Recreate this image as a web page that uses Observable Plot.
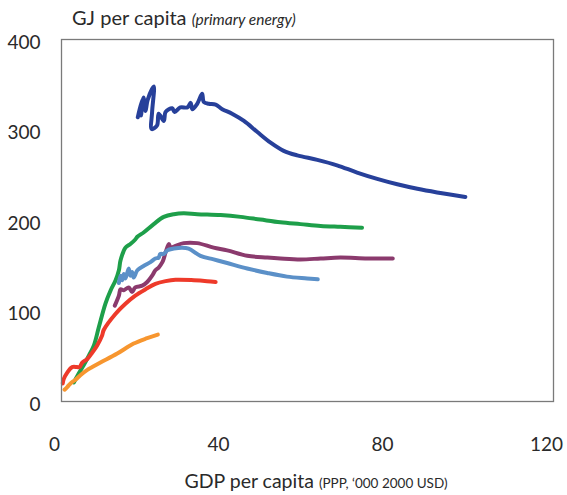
<!DOCTYPE html>
<html>
<head>
<meta charset="utf-8">
<script src="https://cdn.jsdelivr.net/npm/d3@7"></script>
<script src="https://cdn.jsdelivr.net/npm/@observablehq/plot@0.6"></script>
<style>
  html, body { margin: 0; padding: 0; background: #fff; }
  #wrap { position: relative; width: 567px; height: 495px; font-family: Lato, "Open Sans", sans-serif; color: #2a2a2a; }
  #ytitle { position: absolute; left: 72px; top: 5px; font-size: 20px; white-space: nowrap; }
  #ytitle i { font-size: 15.5px; }
  #xtitle { position: absolute; left: 0; width: 632px; text-align: center; top: 469px; font-size: 19.5px; white-space: nowrap; }
  #xtitle span { font-size: 13.5px; }
  #chart { position: absolute; left: 0; top: 0; }
</style>
</head>
<body>
<div id="wrap">
  <div id="chart"></div>
  <div id="ytitle">GJ per capita <i>(primary energy)</i></div>
  <div id="xtitle">GDP per capita <span>(PPP, ‘000 2000 USD)</span></div>
</div>
<script>
// Tick values
const xTicks = [0, 40, 80, 120];
const yTicks = [0, 100, 200, 300, 400];

// Series names and colours
const seriesNames = ["Dark blue", "Green", "Purple", "Light blue", "Red", "Orange"];
const seriesColors = ["#27409a", "#1e9f4a", "#8b3a6d", "#5b90c8", "#ee3a2a", "#f7962f"];

// GDP per capita ('000 2000 USD) and primary energy (GJ per capita)
const darkBlueGDP = [18.6, 19.7, 19.4, 20.0, 20.5, 21.0, 22.5, 22.1, 22.0, 23.3, 23.7, 24.95, 25.4, 27.0, 27.6, 29.0, 30.7, 31.5, 31.9, 33.1, 34.3, 34.7, 35.9, 37.6, 39.2, 41.6, 44.5, 47.7, 51.0, 54.2, 57.5, 62.4, 67.2, 72.1, 77.0, 81.9, 86.8, 91.6, 98.5];
const darkBlueEnergy = [314, 334, 316, 336, 321, 333, 348, 320, 301, 305, 318, 310, 320, 324, 320, 325, 325, 330, 323, 329, 340, 331, 329, 328, 323, 318, 310, 298, 286, 277, 272, 267, 261, 253, 246, 240, 235, 231, 226];

const greenGDP = [3.0, 4.2, 5.4, 6.7, 7.9, 9.1, 10.7, 12.0, 13.2, 14.0, 14.4, 15.6, 16.8, 18.0, 18.5, 20.1, 22.5, 24.95, 27.4, 29.8, 33.1, 38.8, 43.7, 48.5, 53.4, 58.3, 63.2, 68.0, 73.3];
const greenEnergy = [21, 31, 40, 51, 62, 82, 108, 123, 134, 145, 156, 170, 174, 179, 182, 187, 196, 204, 207, 208, 207, 206, 204, 201, 198, 196, 194, 193, 192];

const purpleGDP = [13.0, 14.0, 14.4, 15.2, 16.4, 17.2, 18.0, 19.7, 20.9, 22.1, 22.9, 23.7, 24.6, 24.95, 25.4, 26.2, 26.6, 27.8, 29.8, 33.1, 37.1, 40.4, 45.3, 50.2, 53.4, 58.3, 63.2, 68.0, 74.6, 80.8];
const purpleEnergy = [106, 117, 124, 123, 126, 121, 126, 128, 132, 139, 145, 148, 154, 158, 165, 174, 170, 172, 175, 175, 170, 167, 161, 159, 158, 157, 158, 159, 158, 158];

const lightBlueGDP = [14.0, 14.4, 14.8, 15.2, 15.6, 16.4, 16.8, 17.2, 17.6, 18.5, 20.1, 21.7, 22.9, 23.7, 24.1, 24.95, 25.8, 27.4, 29.4, 31.0, 33.9, 37.1, 40.4, 45.3, 50.2, 55.0, 59.9, 62.5];
const lightBlueEnergy = [131, 139, 134, 141, 136, 147, 139, 143, 137, 145, 150, 154, 158, 159, 163, 163, 167, 169, 170, 169, 161, 157, 153, 147, 142, 138, 136, 135];

const redGDP = [0.3, 0.56, 1.4, 2.6, 3.8, 4.4, 5.05, 6.3, 7.5, 8.7, 9.9, 10.3, 13.2, 15.6, 18.0, 20.5, 22.9, 25.4, 27.8, 32.3, 35.5, 37.6];
const redEnergy = [20, 25, 32, 38, 38, 38, 43, 47, 54, 62, 73, 79, 97, 108, 117, 124, 130, 133, 134.5, 134, 133, 132];

const orangeGDP = [0.73, 1.4, 2.2, 3.4, 4.6, 6.3, 7.5, 9.5, 13.6, 17.6, 20.9, 23.5];
const orangeEnergy = [13, 16, 20, 24, 29, 35, 38, 43, 53, 64, 70, 74];

const seriesGDP = [darkBlueGDP, greenGDP, purpleGDP, lightBlueGDP, redGDP, orangeGDP];
const seriesEnergy = [darkBlueEnergy, greenEnergy, purpleEnergy, lightBlueEnergy, redEnergy, orangeEnergy];

const rows = [];
seriesNames.forEach((name, i) => {
  seriesGDP[i].forEach((g, j) => rows.push({series: name, gdp: g, energy: seriesEnergy[i][j]}));
});

const chart = Plot.plot({
  width: 567,
  height: 495,
  marginLeft: 61,
  marginRight: 14,
  marginTop: 39,
  marginBottom: 94,
  style: {fontFamily: "Lato, 'Open Sans', sans-serif", color: "#2a2a2a", background: "#fff"},
  x: {domain: [0, 120]},
  y: {domain: [0, 400]},
  color: {domain: seriesNames, range: seriesColors},
  marks: [
    Plot.axisX({ticks: xTicks, tickSize: 0, tickPadding: 36, fontSize: 19, dx: -7, label: null, tickFormat: d => String(d)}),
    Plot.axisY({ticks: yTicks, tickSize: 0, tickPadding: 21, fontSize: 19, dy: 3, label: null, tickFormat: d => String(d)}),
    Plot.line(rows, {
      x: "gdp", y: "energy", z: "series", stroke: "series",
      strokeWidth: 4, curve: "catmull-rom", strokeLinecap: "round", strokeLinejoin: "round"
    }),
    Plot.frame({stroke: "#7a7a7a", strokeWidth: 1.3})
  ]
});
document.getElementById("chart").appendChild(chart);
</script>
</body>
</html>
